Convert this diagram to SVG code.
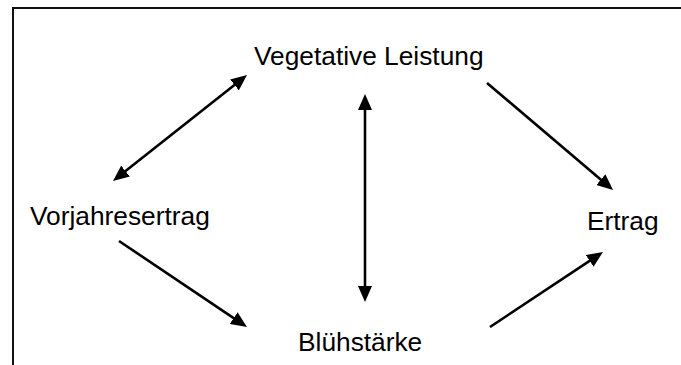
<svg xmlns="http://www.w3.org/2000/svg" width="681" height="365" viewBox="0 0 681 365">
<style>
.lbl{font-family:"Liberation Sans",Arial,sans-serif;font-size:26.3px;fill:#000}
.c{stroke:#000;stroke-width:2.6;fill:none}
.frame{stroke:#111;stroke-width:2;fill:none}
</style>
<defs>
<marker id="ah" markerUnits="userSpaceOnUse" markerWidth="16" markerHeight="14" refX="4" refY="7" orient="auto-start-reverse" viewBox="0 0 16 14">
<path d="M0,0 L16,7 L0,14 z" fill="#000"/>
</marker>
</defs>
<rect width="681" height="365" fill="#fff"/>
<path class="frame" d="M13,366 L13,8 L682,8"/>
<g id="n-veg"><text class="lbl" x="254" y="65">Vegetative Leistung</text></g>
<g id="n-vor"><text class="lbl" x="30" y="225">Vorjahresertrag</text></g>
<g id="n-ert"><text class="lbl" x="587" y="230">Ertrag</text></g>
<g id="n-blu"><text class="lbl" x="298" y="351">Blühstärke</text></g>
<g id="connectors">
<line class="c" x1="122.4" y1="173.6" x2="237.6" y2="82.4" marker-start="url(#ah)" marker-end="url(#ah)"/>
<line class="c" x1="365" y1="106" x2="365" y2="290" marker-start="url(#ah)" marker-end="url(#ah)"/>
<line class="c" x1="487" y1="83" x2="603.9" y2="182.2" marker-end="url(#ah)"/>
<line class="c" x1="119" y1="241" x2="237" y2="320.3" marker-end="url(#ah)"/>
<line class="c" x1="490" y1="327" x2="593" y2="258.6" marker-end="url(#ah)"/>
</g>
</svg>
